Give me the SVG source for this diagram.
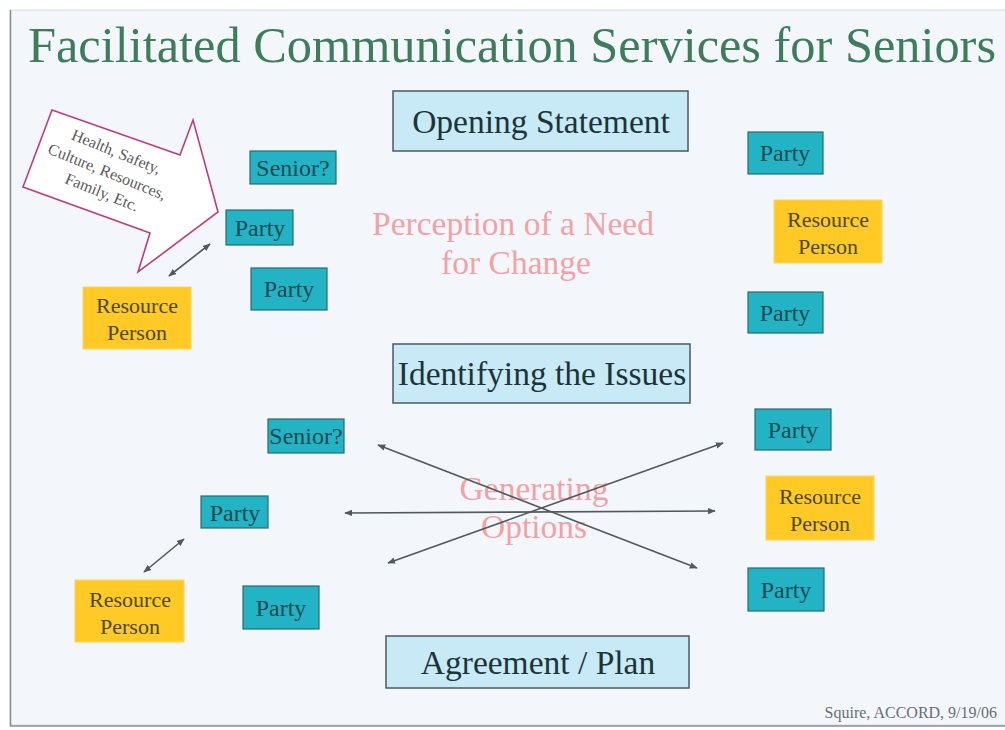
<svg xmlns="http://www.w3.org/2000/svg" width="1005" height="730" viewBox="0 0 1005 730">
<defs>
<style>
.t{font-family:'Liberation Serif','Times New Roman','DejaVu Serif',serif;text-anchor:middle}
.stage{fill:#c8e9f6;stroke:#4a5a60;stroke-width:1.5}
.stxt{font-size:33.5px;fill:#1c3438}
.party{fill:#22b3c4;stroke:#2a6a72;stroke-width:1.2}
.ptxt{font-size:24px;fill:#1d4a52}
.res{fill:#ffc926;stroke:#ffd65a;stroke-width:1}
.rtxt{font-size:22px;fill:#4a4a20}
.pink{font-size:33.5px;fill:#f2a2a4}
.conn{stroke:#505a5a;stroke-width:1.6;fill:none;marker-start:url(#ah);marker-end:url(#ah)}
</style>
<marker id="ah" viewBox="0 0 10 10" refX="9" refY="5" markerWidth="5" markerHeight="5" orient="auto-start-reverse" markerUnits="strokeWidth">
<path d="M0,1 L10,5 L0,9 Z" fill="#505a5a"/>
</marker>
</defs>
<rect x="0" y="0" width="1005" height="730" fill="#ffffff"/>
<rect x="10" y="10" width="996" height="715" fill="#f3f7fc" stroke="#d8dadc" stroke-width="1"/>
<line x1="10.5" y1="10" x2="10.5" y2="726" stroke="#8a8e90" stroke-width="1.5"/>
<line x1="10" y1="726" x2="1005" y2="726" stroke="#8a8e90" stroke-width="1.5"/>

<text id="title" class="t" x="512" y="62" font-size="50" fill="#3e7d5c" textLength="968" lengthAdjust="spacingAndGlyphs">Facilitated Communication Services for Seniors</text>

<g id="callout">
<polygon points="52,110 180,155 193,120 218,212 138,272 150,233 23,187" fill="#ffffff" stroke="#c33a7c" stroke-width="1.6" stroke-linejoin="miter"/>
<g transform="translate(107 172) rotate(22)" class="t" font-size="16" fill="#5a5a5a">
<text x="1" y="-17">Health, Safety,</text>
<text x="0" y="5">Culture, Resources,</text>
<text x="3" y="26">Family, Etc.</text>
</g>
</g>

<g id="opening"><rect class="stage" x="393" y="91" width="295" height="60"/><text class="t stxt" x="541" y="133">Opening Statement</text></g>
<g id="identifying"><rect class="stage" x="393" y="344" width="297" height="59"/><text class="t stxt" x="542" y="385">Identifying the Issues</text></g>
<g id="agreement"><rect class="stage" x="386" y="636" width="303" height="52"/><text class="t stxt" x="538" y="674">Agreement / Plan</text></g>

<g id="perception"><text class="t pink" x="513" y="235">Perception of a Need</text><text class="t pink" x="516" y="274">for Change</text></g>
<g id="generating"><text class="t pink" x="534" y="500">Generating</text><text class="t pink" x="534" y="538">Options</text></g>

<g id="senior1"><rect class="party" x="250" y="151" width="86" height="33"/><text class="t ptxt" x="293" y="176" font-size="25">Senior?</text></g>
<g id="party1"><rect class="party" x="226" y="210" width="67" height="35"/><text class="t ptxt" x="260" y="236">Party</text></g>
<g id="party2"><rect class="party" x="251" y="268" width="76" height="42"/><text class="t ptxt" x="289" y="297">Party</text></g>
<g id="res1"><rect class="res" x="83" y="287" width="108" height="62"/><text class="t rtxt" x="137" y="313">Resource</text><text class="t rtxt" x="137" y="340">Person</text></g>

<g id="party3"><rect class="party" x="748" y="132" width="75" height="42"/><text class="t ptxt" x="785" y="161">Party</text></g>
<g id="res2"><rect class="res" x="774" y="200" width="108" height="63"/><text class="t rtxt" x="828" y="227">Resource</text><text class="t rtxt" x="828" y="254">Person</text></g>
<g id="party4"><rect class="party" x="748" y="292" width="75" height="41"/><text class="t ptxt" x="785" y="321">Party</text></g>

<g id="senior2"><rect class="party" x="268" y="419" width="76" height="34"/><text class="t ptxt" x="306" y="444" font-size="23">Senior?</text></g>
<g id="party5"><rect class="party" x="201" y="496" width="67" height="32"/><text class="t ptxt" x="235" y="521">Party</text></g>
<g id="res3"><rect class="res" x="75" y="580" width="109" height="62"/><text class="t rtxt" x="130" y="607">Resource</text><text class="t rtxt" x="130" y="634">Person</text></g>
<g id="party6"><rect class="party" x="243" y="586" width="76" height="43"/><text class="t ptxt" x="281" y="616">Party</text></g>

<g id="party7"><rect class="party" x="755" y="409" width="76" height="41"/><text class="t ptxt" x="793" y="438">Party</text></g>
<g id="res4"><rect class="res" x="766" y="476" width="108" height="64"/><text class="t rtxt" x="820" y="504">Resource</text><text class="t rtxt" x="820" y="531">Person</text></g>
<g id="party8"><rect class="party" x="748" y="568" width="76" height="43"/><text class="t ptxt" x="786" y="598">Party</text></g>

<g id="connectors">
<line class="conn" x1="169" y1="276" x2="210" y2="244"/>
<line class="conn" x1="144" y1="572" x2="184" y2="539"/>
<line class="conn" x1="378" y1="445" x2="697" y2="568"/>
<line class="conn" x1="388" y1="563" x2="723" y2="443"/>
<line class="conn" x1="345" y1="513" x2="715" y2="511"/>
</g>

<text id="footer" class="t" x="997" y="718" font-size="16" fill="#6a6e70" style="text-anchor:end">Squire, ACCORD, 9/19/06</text>
</svg>
